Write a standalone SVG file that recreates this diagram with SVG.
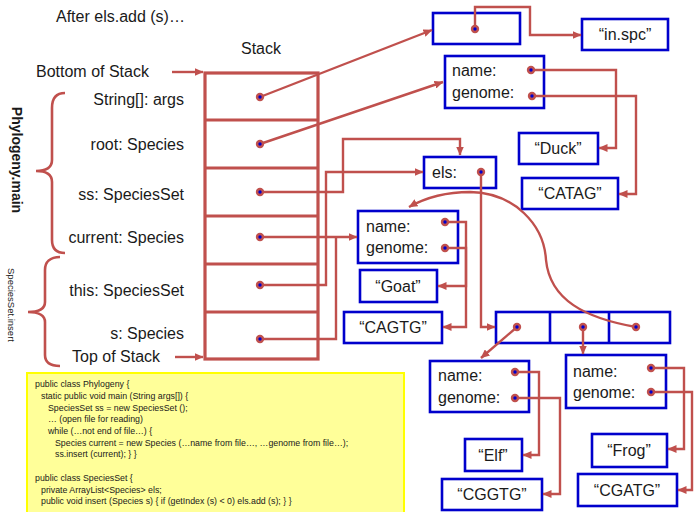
<svg xmlns="http://www.w3.org/2000/svg" xmlns:xlink="http://www.w3.org/1999/xlink" width="694" height="512" viewBox="0 0 694 512">
  <style>
    text { font-family: "Liberation Sans", Arial, sans-serif; fill: #1a1a1a; }
    .lbl { font-size: 16px; }
    .end { text-anchor: end; }
    .mid { text-anchor: middle; }
    .obj { fill: #ffffff; stroke: #0000cc; stroke-width: 2.6; }
    .stk { fill: none; stroke: #c0504d; stroke-width: 3.2; }
    .wire { fill: none; stroke: #c0504d; stroke-width: 2.4; }
    .arr { marker-end: url(#head); }
    .brace { fill: none; stroke: #c0504d; stroke-width: 2.6; }
    .code { font-size: 8.8px; }
  </style>
  <defs>
    <marker id="head" markerUnits="userSpaceOnUse" markerWidth="9" markerHeight="8" refX="8.5" refY="4" orient="auto">
      <path d="M0,0 L9,4 L0,8 z" fill="#c0504d"/>
    </marker>
    <g id="dot">
      <circle r="4.2" fill="#c0504d"/>
      <circle r="1.7" fill="#0000cc"/>
    </g>
  </defs>

  <rect width="694" height="512" fill="#ffffff"/>

  <!-- titles -->
  <g id="titles">
    <text class="lbl" x="56" y="22">After els.add (s)…</text>
    <text class="lbl mid" x="261" y="54">Stack</text>
  </g>

  <!-- frame braces and labels -->
  <g id="frame-main">
    <path class="brace" d="M65,93 C56,93 52,98 52,108 V160 C52,167 47,171 36,171 C47,171 52,175 52,182 V240 C52,248 56,253 65,253"/>
    <text transform="translate(12,160) rotate(90)" class="mid" style="font-size:14px;font-weight:bold">Phylogeny.main</text>
  </g>
  <g id="frame-insert">
    <path class="brace" d="M60,257 C50,257 45,262 45,270 V302 C45,308 40,312 28,312 C40,312 45,316 45,322 V355 C45,362 50,366 60,366"/>
    <text transform="translate(8,305) rotate(90)" class="mid" style="font-size:9.5px">SpeciesSet.insert</text>
  </g>

  <!-- call stack -->
  <g id="stack">
    <rect class="stk" x="205" y="73" width="113" height="286"/>
    <path class="stk" d="M205,120 H318 M205,168 H318 M205,216 H318 M205,264 H318 M205,312 H318"/>
    <text class="lbl" x="36" y="77">Bottom of Stack</text>
    <text class="lbl" x="72" y="362">Top of Stack</text>
    <text class="lbl end" x="184" y="105">String[]: args</text>
    <text class="lbl end" x="184" y="150">root: Species</text>
    <text class="lbl end" x="184" y="200">ss: SpeciesSet</text>
    <text class="lbl end" x="184" y="243">current: Species</text>
    <text class="lbl end" x="184" y="296">this: SpeciesSet</text>
    <text class="lbl end" x="184" y="339">s: Species</text>
  </g>

  <!-- heap objects -->
  <g id="args-array">
    <rect class="obj" x="433" y="13" width="87" height="31"/>
  </g>
  <g id="str-inspc">
    <rect class="obj" x="582" y="19" width="86" height="31"/>
    <text class="lbl mid" x="625" y="40">“in.spc”</text>
  </g>
  <g id="species-duck">
    <rect class="obj" x="445" y="56" width="99" height="52"/>
    <text class="lbl" x="452" y="76">name:</text>
    <text class="lbl" x="452" y="98">genome:</text>
  </g>
  <g id="str-duck">
    <rect class="obj" x="519" y="133" width="79" height="31"/>
    <text class="lbl mid" x="558" y="154">“Duck”</text>
  </g>
  <g id="str-catag">
    <rect class="obj" x="522" y="178" width="96" height="31"/>
    <text class="lbl mid" x="570" y="199">“CATAG”</text>
  </g>
  <g id="species-set">
    <rect class="obj" x="424" y="157" width="72" height="31"/>
    <text class="lbl" x="432" y="178">els:</text>
  </g>
  <g id="species-goat">
    <rect class="obj" x="358" y="211" width="100" height="52"/>
    <text class="lbl" x="366" y="232">name:</text>
    <text class="lbl" x="366" y="253">genome:</text>
  </g>
  <g id="str-goat">
    <rect class="obj" x="360" y="270" width="77" height="32"/>
    <text class="lbl mid" x="398" y="292">“Goat”</text>
  </g>
  <g id="str-cagtg">
    <rect class="obj" x="344" y="312" width="98" height="31"/>
    <text class="lbl mid" x="393" y="333">“CAGTG”</text>
  </g>
  <g id="els-list">
    <rect class="obj" x="496" y="312" width="174" height="31"/>
    <path class="obj" d="M550,312 V343 M609,312 V343"/>
  </g>
  <g id="species-elf">
    <rect class="obj" x="430" y="361" width="99" height="51"/>
    <text class="lbl" x="438" y="381">name:</text>
    <text class="lbl" x="438" y="403">genome:</text>
  </g>
  <g id="str-elf">
    <rect class="obj" x="465" y="439" width="57" height="32"/>
    <text class="lbl mid" x="493" y="461">“Elf”</text>
  </g>
  <g id="str-cggtg">
    <rect class="obj" x="442" y="479" width="100" height="31"/>
    <text class="lbl mid" x="492" y="500">“CGGTG”</text>
  </g>
  <g id="species-frog">
    <rect class="obj" x="566" y="355" width="100" height="53"/>
    <text class="lbl" x="573" y="377">name:</text>
    <text class="lbl" x="573" y="398">genome:</text>
  </g>
  <g id="str-frog">
    <rect class="obj" x="592" y="434" width="75" height="33"/>
    <text class="lbl mid" x="629" y="456">“Frog”</text>
  </g>
  <g id="str-cgatg">
    <rect class="obj" x="578" y="474" width="99" height="32"/>
    <text class="lbl mid" x="627" y="496">“CGATG”</text>
  </g>

  <!-- source listing -->
  <g id="code">
    <rect x="27" y="373" width="377" height="141" fill="#ffff99" stroke="#ffff00" stroke-width="2"/>
    <text class="code" x="35" y="387">public class Phylogeny {</text>
    <text class="code" x="41" y="399">static public void main (String args[]) {</text>
    <text class="code" x="48" y="411">SpeciesSet ss = new SpeciesSet ();</text>
    <text class="code" x="48" y="422">… (open file for reading)</text>
    <text class="code" x="48" y="434">while (…not end of file…) {</text>
    <text class="code" x="55" y="446">Species current = new Species (…name from file…, …genome from file…);</text>
    <text class="code" x="55" y="457">ss.insert (current); } }</text>
    <text class="code" x="35" y="481">public class SpeciesSet {</text>
    <text class="code" x="41" y="493">private ArrayList&lt;Species&gt; els;</text>
    <text class="code" x="41" y="504">public void insert (Species s) { if (getIndex (s) &lt; 0) els.add (s); }  }</text>
  </g>

  <!-- references -->
  <g id="connectors">
    <path class="wire arr" d="M172,72 H203"/>
    <path class="wire arr" d="M175,357 H203"/>
    <path class="wire arr" d="M260,97 L432,30"/>
    <path class="wire arr" d="M260,144 L443,82"/>
    <path class="wire arr" d="M260,192 H343 V139 H460 V155"/>
    <path class="wire arr" d="M260,237 H357"/>
    <path class="wire arr" d="M260,285 H326 V172 H423"/>
    <path class="wire" d="M260,339 H336 V237"/>
    <path class="wire arr" d="M475,29 V7 H530 V35 H581"/>
    <path class="wire arr" d="M531,70 H616 V148 H599"/>
    <path class="wire arr" d="M532,96 H636 V194 H619"/>
    <path class="wire arr" d="M481,172 V327 H495"/>
    <path class="wire arr" d="M445,222 H466 V286 H438"/>
    <path class="wire arr" d="M445,248 H466 V327 H443"/>
    <path class="wire arr" d="M517,327 L481,358"/>
    <path class="wire arr" d="M583,327 V354"/>
    <path class="wire arr" d="M636,327 C585,318 550,300 546,260 C544,225 515,193 470,192 C445,192 425,198 409,207"/>
    <path class="wire arr" d="M515,372 H539 V455 H523"/>
    <path class="wire arr" d="M515,398 H560 V494 H543"/>
    <path class="wire arr" d="M651,368 H684 V449 H668"/>
    <path class="wire arr" d="M651,392 H692 V490 H678"/>
  </g>

  <!-- reference origins -->
  <g id="pointers">
    <use xlink:href="#dot" x="260" y="97"/>
    <use xlink:href="#dot" x="260" y="144"/>
    <use xlink:href="#dot" x="260" y="192"/>
    <use xlink:href="#dot" x="260" y="237"/>
    <use xlink:href="#dot" x="260" y="285"/>
    <use xlink:href="#dot" x="260" y="339"/>
    <use xlink:href="#dot" x="475" y="29"/>
    <use xlink:href="#dot" x="531" y="70"/>
    <use xlink:href="#dot" x="532" y="96"/>
    <use xlink:href="#dot" x="481" y="172"/>
    <use xlink:href="#dot" x="445" y="222"/>
    <use xlink:href="#dot" x="445" y="248"/>
    <use xlink:href="#dot" x="517" y="327"/>
    <use xlink:href="#dot" x="583" y="327"/>
    <use xlink:href="#dot" x="636" y="327"/>
    <use xlink:href="#dot" x="515" y="372"/>
    <use xlink:href="#dot" x="515" y="398"/>
    <use xlink:href="#dot" x="651" y="368"/>
    <use xlink:href="#dot" x="651" y="392"/>
  </g>
</svg>
